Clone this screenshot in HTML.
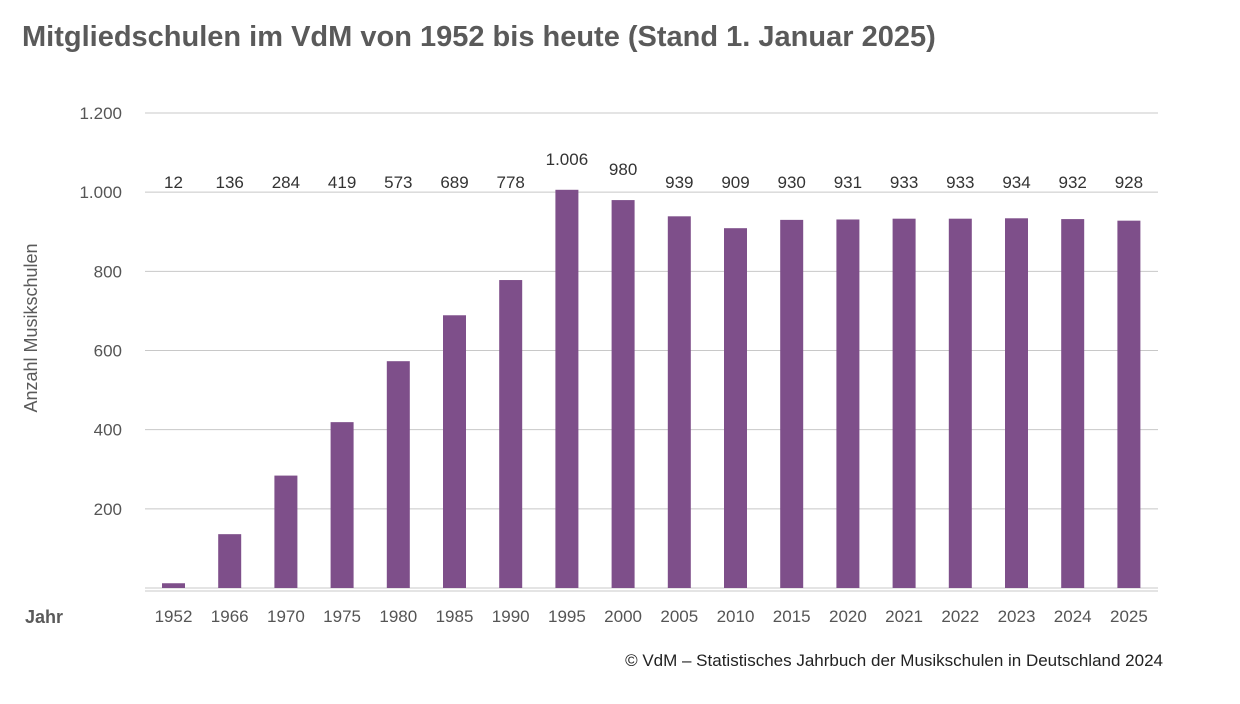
<!DOCTYPE html>
<html><head><meta charset="utf-8">
<style>
body{margin:0;background:#fff;width:1240px;height:699px;overflow:hidden;font-family:"Liberation Sans",sans-serif;}
</style></head>
<body>
<svg width="1240" height="699" id="chart">
<text x="22" y="46" font-size="29" font-weight="bold" fill="#5a5a5a">Mitgliedschulen im VdM von 1952 bis heute (Stand 1. Januar 2025)</text>
<text transform="translate(37,328) rotate(-90)" text-anchor="middle" font-size="18" fill="#5a5a5a">Anzahl Musikschulen</text>
<text x="25" y="623" font-size="18" fill="#5a5a5a" font-weight="bold">Jahr</text>
<text x="1163" y="666" text-anchor="end" font-size="17" fill="#222">© VdM – Statistisches Jahrbuch der Musikschulen in Deutschland 2024</text>
<g id="grid"></g><g id="bars"></g>
</svg>
<script>
const categories=["1952","1966","1970","1975","1980","1985","1990","1995","2000","2005","2010","2015","2020","2021","2022","2023","2024","2025"];
const values=[12,136,284,419,573,689,778,1006,980,939,909,930,931,933,933,934,932,928];
const valueLabels=["12","136","284","419","573","689","778","1.006","980","939","909","930","931","933","933","934","932","928"];
const yTicks=[0,200,400,600,800,1000,1200];
const yTickLabels=["","200","400","600","800","1.000","1.200"];
const NS="http://www.w3.org/2000/svg";
const y=v=>588-v*(475/1200);
const x=i=>173.5+i*56.2;
const grid=document.getElementById('grid'),bars=document.getElementById('bars');
function mk(tag,attrs,parent){const e=document.createElementNS(NS,tag);for(const k in attrs)e.setAttribute(k,attrs[k]);parent.appendChild(e);return e;}
yTicks.forEach((t,i)=>{
  const l=mk('line',{x1:145,x2:1158,y1:y(t),y2:y(t),stroke:'#c8c8c8','stroke-width':1},grid);
  
  
  if(yTickLabels[i]){const tx=mk('text',{x:122,y:y(t)+6,'text-anchor':'end','font-size':17,fill:'#555'},grid);tx.textContent=yTickLabels[i];
  
  }
});
const b2=mk('line',{x1:145,x2:1158,y1:591,y2:591,stroke:'#c8c8c8','stroke-width':1},grid);


categories.forEach((c,i)=>{
  const top=y(values[i]);
  const r=mk('rect',{x:x(i)-11.5,y:top,width:23,height:588-top,fill:'#7e4f8a'},bars);
  
  
  const vl=mk('text',{x:x(i),y:Math.min(top-25,188),'text-anchor':'middle','font-size':17,fill:'#333'},bars);
  vl.textContent=valueLabels[i];
  
  
  const xl=mk('text',{x:x(i),y:622,'text-anchor':'middle','font-size':17,fill:'#555'},bars);
  xl.textContent=c;
  
  
});
</script>
</body></html>
